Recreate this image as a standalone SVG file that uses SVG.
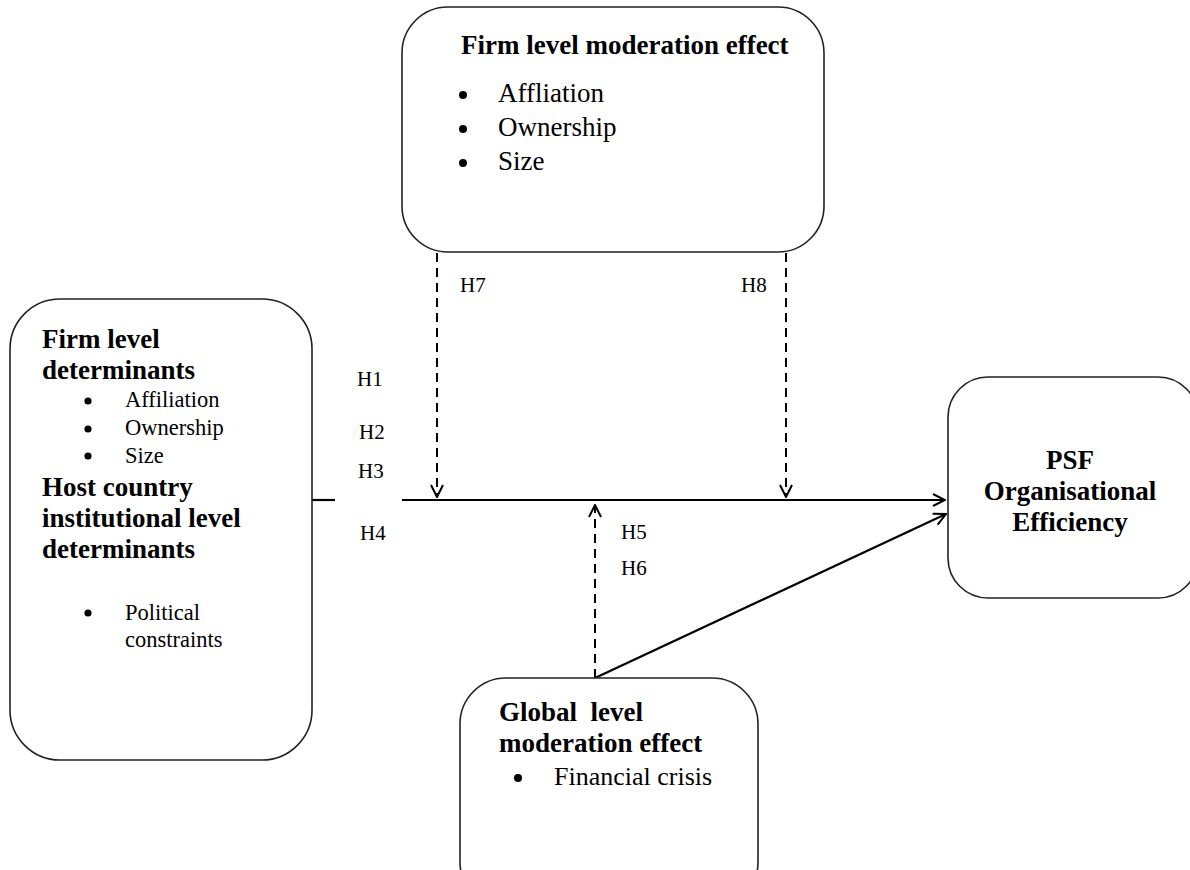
<svg xmlns="http://www.w3.org/2000/svg" width="1190" height="870" viewBox="0 0 1190 870">
<style>
.box{fill:#fff;stroke:#222;stroke-width:1.6}
.b{font-family:"Liberation Serif","Times New Roman",serif;font-weight:bold;fill:#000}
.r{font-family:"Liberation Serif","Times New Roman",serif;fill:#000}
.ln{stroke:#000;stroke-width:2.2;fill:none}
.dash{stroke:#000;stroke-width:2;fill:none;stroke-dasharray:9,6}
</style>
<defs>
<marker id="ah" viewBox="0 0 14 14" refX="13" refY="7" markerWidth="14" markerHeight="14" markerUnits="userSpaceOnUse" orient="auto">
<path d="M1,1 L13,7 L1,13" fill="none" stroke="#000" stroke-width="2"/>
</marker>
</defs>
<rect width="1190" height="870" fill="#fff"/>
<g id="connectors">
<line class="ln" x1="312" y1="500" x2="335" y2="500"/>
<line class="ln" x1="402" y1="500" x2="945" y2="500" marker-end="url(#ah)"/>
<line class="dash" x1="437" y1="253" x2="437" y2="497" marker-end="url(#ah)"/>
<line class="dash" x1="786" y1="253" x2="786" y2="497" marker-end="url(#ah)"/>
<line class="dash" x1="595" y1="678" x2="595" y2="505" marker-end="url(#ah)"/>
<line class="ln" x1="595" y1="678" x2="946" y2="514" marker-end="url(#ah)"/>
<g class="r" font-size="21">
<text x="357" y="386">H1</text>
<text x="359" y="439">H2</text>
<text x="358" y="478">H3</text>
<text x="360" y="540">H4</text>
<text x="621" y="539">H5</text>
<text x="621" y="575">H6</text>
<text x="460" y="292">H7</text>
<text x="741" y="292">H8</text>
</g>
</g>
<g id="firm-level-moderation">
<rect class="box" x="402" y="7" width="422" height="245" rx="46"/>
<text class="b" x="461" y="54" font-size="27">Firm level moderation effect</text>
<circle cx="463" cy="95" r="4"/>
<circle cx="463" cy="129" r="4"/>
<circle cx="463" cy="163" r="4"/>
<text class="r" x="498" y="102" font-size="27">Affliation</text>
<text class="r" x="498" y="136" font-size="27">Ownership</text>
<text class="r" x="498" y="170" font-size="27">Size</text>
</g>
<g id="determinants">
<rect class="box" x="10" y="299" width="302" height="461" rx="50"/>
<text class="b" x="42" y="348" font-size="27">Firm level</text>
<text class="b" x="42" y="379" font-size="27">determinants</text>
<circle cx="88" cy="401" r="3.6"/>
<circle cx="88" cy="429" r="3.6"/>
<circle cx="88" cy="456" r="3.6"/>
<text class="r" x="125" y="407" font-size="22.5">Affiliation</text>
<text class="r" x="125" y="435" font-size="22.5">Ownership</text>
<text class="r" x="125" y="463" font-size="22.5">Size</text>
<text class="b" x="42" y="496" font-size="27">Host country</text>
<text class="b" x="42" y="527" font-size="27">institutional level</text>
<text class="b" x="42" y="558" font-size="27">determinants</text>
<circle cx="88" cy="613" r="3.6"/>
<text class="r" x="125" y="620" font-size="22.5">Political</text>
<text class="r" x="125" y="647" font-size="22.5">constraints</text>
</g>
<g id="psf-efficiency">
<rect class="box" x="948" y="377" width="250" height="221" rx="40"/>
<text class="b" x="1070" y="469" font-size="27" text-anchor="middle">PSF</text>
<text class="b" x="1070" y="500" font-size="27" text-anchor="middle">Organisational</text>
<text class="b" x="1070" y="531" font-size="27" text-anchor="middle">Efficiency</text>
</g>
<g id="global-moderation">
<rect class="box" x="460" y="678" width="298" height="230" rx="46"/>
<text class="b" x="499" y="721" font-size="27" xml:space="preserve">Global  level</text>
<text class="b" x="499" y="752" font-size="27">moderation effect</text>
<circle cx="518" cy="778" r="4"/>
<text class="r" x="554" y="785" font-size="26">Financial crisis</text>
</g>
</svg>
